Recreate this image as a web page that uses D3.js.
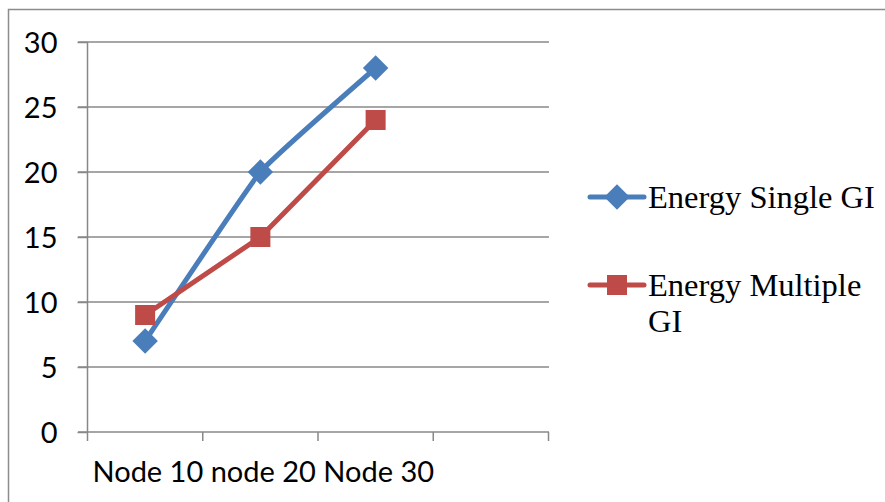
<!DOCTYPE html>
<html><head><meta charset="utf-8">
<script src="https://cdn.jsdelivr.net/npm/d3@7"></script>
<style>body{margin:0;background:#fff}svg{display:block}</style>
</head><body>
<svg id="c" width="885" height="502"></svg>
<script>
const categories = ["Node 10 node 20 Node 30", "", "", ""];
const seriesNames = ["Energy Single GI", "Energy Multiple GI"];
const singleGI = [7, 20, 28];
const multipleGI = [9, 15, 24];
const yTicks = [0, 5, 10, 15, 20, 25, 30];
const colors = ["#4A7EBB", "#BE4B48"];

const svg = d3.select("#c");
const axisFont = "Lato, 'Open Sans', sans-serif";
const legFont = "'Liberation Serif', 'Times New Roman', serif";

// outer border
svg.append("rect").attr("x", 8.5).attr("y", 9.5).attr("width", 900).attr("height", 520)
  .attr("fill", "none").attr("stroke", "#8c8c8c").attr("stroke-width", 1.5);

const x = d3.scaleBand().domain(d3.range(categories.length)).range([87.5, 548.5]);
const y = d3.scaleLinear().domain([0, 30]).range([432, 42]);

// gridlines
svg.append("g").selectAll("line").data(yTicks.filter(d => d > 0)).join("line")
  .attr("x1", 78).attr("x2", 549).attr("y1", d => y(d)).attr("y2", d => y(d))
  .attr("stroke", "#888").attr("stroke-width", 1.5);

// y axis
const ya = svg.append("g").attr("transform", "translate(87.5,0)")
  .call(d3.axisLeft(y).tickValues(yTicks).tickSize(10).tickPadding(20));
ya.select(".domain").attr("stroke", "#888").attr("stroke-width", 1.5).attr("d", "M0,42V432");
ya.selectAll(".tick line").attr("stroke", "#888").attr("stroke-width", 1.5);
ya.selectAll("text").attr("font-family", axisFont).attr("font-size", 29).attr("fill", "#000").attr("dy", "0.36em");

// x axis
const xa = svg.append("g").attr("transform", "translate(0,432)");
xa.append("line").attr("x1", 78).attr("x2", 549).attr("stroke", "#888").attr("stroke-width", 1.5);
const edges = d3.range(categories.length + 1).map(i => i < categories.length ? x(i) : x(categories.length - 1) + x.bandwidth());
xa.selectAll("line.tk").data(edges).join("line").attr("class", "tk")
  .attr("x1", d => d).attr("x2", d => d).attr("y1", 0).attr("y2", 9)
  .attr("stroke", "#888").attr("stroke-width", 1.5);
xa.selectAll("text").data(categories).join("text")
  .attr("x", (d, i) => x(i) + 5).attr("y", 50)
  .attr("font-family", axisFont).attr("font-size", 29).attr("fill", "#000")
  .text(d => d);

// series
const cx = i => x(i) + x.bandwidth() / 2;
const curves = [d3.curveCardinal.tension(0.7), d3.curveLinear];
const data = [singleGI, multipleGI];
data.forEach((s, k) => {
  const line = d3.line().x((d, i) => cx(i)).y(d => y(d)).curve(curves[k]);
  svg.append("path").datum(s).attr("d", line).attr("fill", "none")
    .attr("stroke", colors[k]).attr("stroke-width", 5).attr("stroke-linejoin", "round");
});
function marker(g, k, px, py) {
  if (k === 0) {
    g.append("rect").attr("x", px - 9).attr("y", py - 9).attr("width", 18).attr("height", 18)
      .attr("transform", `rotate(45 ${px} ${py})`).attr("fill", colors[0]);
  } else {
    g.append("rect").attr("x", px - 10).attr("y", py - 10).attr("width", 20).attr("height", 20)
      .attr("fill", colors[1]);
  }
}
const mg = svg.append("g");
data.forEach((s, k) => s.forEach((v, i) => marker(mg, k, cx(i), y(v))));

// legend
const lg = svg.append("g");
const legY = [197, 285];
seriesNames.forEach((n, k) => {
  lg.append("line").attr("x1", 590).attr("x2", 644).attr("y1", legY[k]).attr("y2", legY[k])
    .attr("stroke", colors[k]).attr("stroke-width", 5).attr("stroke-linecap", "round");
  marker(lg, k, 617, legY[k]);
});
lg.append("text").attr("x", 648).attr("y", 208).attr("font-family", legFont).attr("font-size", 32.5)
  .attr("fill", "#000").text(seriesNames[0]);
const t2 = lg.append("text").attr("x", 648).attr("y", 296).attr("font-family", legFont).attr("font-size", 32.5).attr("fill", "#000");
t2.append("tspan").attr("x", 648).text("Energy Multiple");
t2.append("tspan").attr("x", 648).attr("dy", 36).text("GI");
</script>
</body></html>
